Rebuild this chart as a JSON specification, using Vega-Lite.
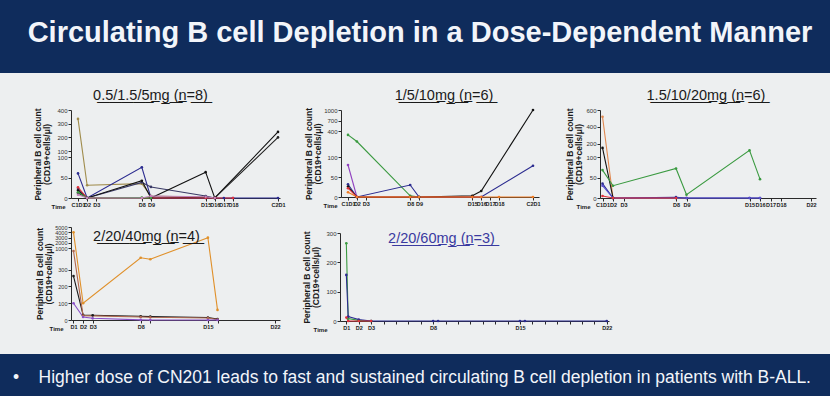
{
  "$schema": "https://vega.github.io/schema/vega-lite/v6.json",
  "background": "#edeff0",
  "padding": 0,
  "config": {
    "view": {"stroke": null},
    "font": "Liberation Sans",
    "axis": {"grid": false, "domainColor": "#2a2a2a", "tickColor": "#2a2a2a", "labelColor": "#333333", "titleColor": "#1a1a1a", "tickSize": 3, "labelPadding": 1, "labelFont": "Liberation Sans", "titleFont": "Liberation Sans", "labelOverlap": false, "labelSeparation": -60, "labelFlush": false},
    "title": {"font": "Liberation Sans", "fontSize": 14.5, "fontWeight": "normal", "color": "#1a1a1a", "frame": "group", "baseline": "bottom"}
  },
  "datasets": {
    "b": [
      {"panel": "A", "pt": "A1", "day": 1, "v": 335}, {"panel": "A", "pt": "A1", "day": 2, "v": 31}, {"panel": "A", "pt": "A1", "day": 8, "v": 35}, {"panel": "A", "pt": "A1", "day": 9, "v": 5}, {"panel": "A", "pt": "A1", "day": 15, "v": 2}, {"panel": "A", "pt": "A1", "day": 16, "v": 0},
      {"panel": "A", "pt": "A2", "day": 1, "v": 60}, {"panel": "A", "pt": "A2", "day": 2, "v": 0}, {"panel": "A", "pt": "A2", "day": 8, "v": 75}, {"panel": "A", "pt": "A2", "day": 9, "v": 0}, {"panel": "A", "pt": "A2", "day": 15, "v": 0}, {"panel": "A", "pt": "A2", "day": 16, "v": 0}, {"panel": "A", "pt": "A2", "day": 17, "v": 0}, {"panel": "A", "pt": "A2", "day": 18, "v": 0}, {"panel": "A", "pt": "A2", "day": 22, "v": 0},
      {"panel": "A", "pt": "A3", "day": 1, "v": 22}, {"panel": "A", "pt": "A3", "day": 2, "v": 0}, {"panel": "A", "pt": "A3", "day": 8, "v": 38}, {"panel": "A", "pt": "A3", "day": 9, "v": 27}, {"panel": "A", "pt": "A3", "day": 15, "v": 5}, {"panel": "A", "pt": "A3", "day": 16, "v": 0},
      {"panel": "A", "pt": "A4", "day": 1, "v": 18}, {"panel": "A", "pt": "A4", "day": 2, "v": 0}, {"panel": "A", "pt": "A4", "day": 8, "v": 42}, {"panel": "A", "pt": "A4", "day": 9, "v": 0}, {"panel": "A", "pt": "A4", "day": 15, "v": 63}, {"panel": "A", "pt": "A4", "day": 16, "v": 0}, {"panel": "A", "pt": "A4", "day": 22, "v": 240},
      {"panel": "A", "pt": "A5", "day": 1, "v": 12}, {"panel": "A", "pt": "A5", "day": 2, "v": 0}, {"panel": "A", "pt": "A5", "day": 9, "v": 0}, {"panel": "A", "pt": "A5", "day": 15, "v": 2}, {"panel": "A", "pt": "A5", "day": 16, "v": 0}, {"panel": "A", "pt": "A5", "day": 22, "v": 200},
      {"panel": "A", "pt": "A6", "day": 1, "v": 26}, {"panel": "A", "pt": "A6", "day": 2, "v": 0}, {"panel": "A", "pt": "A6", "day": 8, "v": 0}, {"panel": "A", "pt": "A6", "day": 9, "v": 0}, {"panel": "A", "pt": "A6", "day": 15, "v": 0}, {"panel": "A", "pt": "A6", "day": 16, "v": 0}, {"panel": "A", "pt": "A6", "day": 18, "v": 0},
      {"panel": "A", "pt": "A7", "day": 1, "v": 14}, {"panel": "A", "pt": "A7", "day": 2, "v": 0}, {"panel": "A", "pt": "A7", "day": 8, "v": 1}, {"panel": "A", "pt": "A7", "day": 9, "v": 0},
      {"panel": "A", "pt": "A8", "day": 1, "v": 8}, {"panel": "A", "pt": "A8", "day": 2, "v": 0}, {"panel": "A", "pt": "A8", "day": 8, "v": 0}, {"panel": "A", "pt": "A8", "day": 9, "v": 5}, {"panel": "A", "pt": "A8", "day": 15, "v": 3}, {"panel": "A", "pt": "A8", "day": 16, "v": 0},

      {"panel": "B", "pt": "B1", "day": 1, "v": 300}, {"panel": "B", "pt": "B1", "day": 2, "v": 115}, {"panel": "B", "pt": "B1", "day": 8, "v": 3}, {"panel": "B", "pt": "B1", "day": 9, "v": 0},
      {"panel": "B", "pt": "B2", "day": 1, "v": 80}, {"panel": "B", "pt": "B2", "day": 2, "v": 0},
      {"panel": "B", "pt": "B3", "day": 1, "v": 32}, {"panel": "B", "pt": "B3", "day": 2, "v": 0}, {"panel": "B", "pt": "B3", "day": 8, "v": 30}, {"panel": "B", "pt": "B3", "day": 9, "v": 0}, {"panel": "B", "pt": "B3", "day": 15, "v": 0}, {"panel": "B", "pt": "B3", "day": 16, "v": 0}, {"panel": "B", "pt": "B3", "day": 22, "v": 78},
      {"panel": "B", "pt": "B4", "day": 1, "v": 26}, {"panel": "B", "pt": "B4", "day": 2, "v": 0}, {"panel": "B", "pt": "B4", "day": 8, "v": 0}, {"panel": "B", "pt": "B4", "day": 9, "v": 0}, {"panel": "B", "pt": "B4", "day": 15, "v": 3}, {"panel": "B", "pt": "B4", "day": 16, "v": 15}, {"panel": "B", "pt": "B4", "day": 22, "v": 1000},
      {"panel": "B", "pt": "B5", "day": 1, "v": 22}, {"panel": "B", "pt": "B5", "day": 2, "v": 0}, {"panel": "B", "pt": "B5", "day": 8, "v": 0}, {"panel": "B", "pt": "B5", "day": 9, "v": 0}, {"panel": "B", "pt": "B5", "day": 15, "v": 0}, {"panel": "B", "pt": "B5", "day": 16, "v": 0},
      {"panel": "B", "pt": "B6", "day": 1, "v": 12}, {"panel": "B", "pt": "B6", "day": 2, "v": 0}, {"panel": "B", "pt": "B6", "day": 8, "v": 0}, {"panel": "B", "pt": "B6", "day": 9, "v": 0}, {"panel": "B", "pt": "B6", "day": 15, "v": 0}, {"panel": "B", "pt": "B6", "day": 16, "v": 0}, {"panel": "B", "pt": "B6", "day": 18, "v": 0}, {"panel": "B", "pt": "B6", "day": 22, "v": 0},

      {"panel": "C", "pt": "C1", "day": 1, "v": 520}, {"panel": "C", "pt": "C1", "day": 2, "v": 0}, {"panel": "C", "pt": "C1", "day": 8, "v": 0}, {"panel": "C", "pt": "C1", "day": 9, "v": 0},
      {"panel": "C", "pt": "C2", "day": 1, "v": 150}, {"panel": "C", "pt": "C2", "day": 2, "v": 0},
      {"panel": "C", "pt": "C3", "day": 1, "v": 68}, {"panel": "C", "pt": "C3", "day": 2, "v": 30}, {"panel": "C", "pt": "C3", "day": 8, "v": 72}, {"panel": "C", "pt": "C3", "day": 9, "v": 8}, {"panel": "C", "pt": "C3", "day": 15, "v": 120}, {"panel": "C", "pt": "C3", "day": 16, "v": 46},
      {"panel": "C", "pt": "C4", "day": 1, "v": 35}, {"panel": "C", "pt": "C4", "day": 2, "v": 0}, {"panel": "C", "pt": "C4", "day": 8, "v": 2}, {"panel": "C", "pt": "C4", "day": 9, "v": 0}, {"panel": "C", "pt": "C4", "day": 15, "v": 0}, {"panel": "C", "pt": "C4", "day": 16, "v": 0},
      {"panel": "C", "pt": "C5", "day": 1, "v": 30}, {"panel": "C", "pt": "C5", "day": 2, "v": 0}, {"panel": "C", "pt": "C5", "day": 8, "v": 0}, {"panel": "C", "pt": "C5", "day": 9, "v": 0}, {"panel": "C", "pt": "C5", "day": 15, "v": 0}, {"panel": "C", "pt": "C5", "day": 16, "v": 0},
      {"panel": "C", "pt": "C6", "day": 1, "v": 5}, {"panel": "C", "pt": "C6", "day": 2, "v": 0}, {"panel": "C", "pt": "C6", "day": 8, "v": 0},

      {"panel": "D", "pt": "D1", "day": 1, "v": 4000}, {"panel": "D", "pt": "D1", "day": 2, "v": 100}, {"panel": "D", "pt": "D1", "day": 8, "v": 480}, {"panel": "D", "pt": "D1", "day": 9, "v": 400}, {"panel": "D", "pt": "D1", "day": 15, "v": 3000}, {"panel": "D", "pt": "D1", "day": 16, "v": 60},
      {"panel": "D", "pt": "D2", "day": 1, "v": 262}, {"panel": "D", "pt": "D2", "day": 2, "v": 30}, {"panel": "D", "pt": "D2", "day": 3, "v": 28}, {"panel": "D", "pt": "D2", "day": 8, "v": 22}, {"panel": "D", "pt": "D2", "day": 9, "v": 20}, {"panel": "D", "pt": "D2", "day": 15, "v": 15}, {"panel": "D", "pt": "D2", "day": 16, "v": 5},
      {"panel": "D", "pt": "D3", "day": 1, "v": 850}, {"panel": "D", "pt": "D3", "day": 2, "v": 26}, {"panel": "D", "pt": "D3", "day": 8, "v": 18}, {"panel": "D", "pt": "D3", "day": 9, "v": 16}, {"panel": "D", "pt": "D3", "day": 15, "v": 12}, {"panel": "D", "pt": "D3", "day": 16, "v": 3},
      {"panel": "D", "pt": "D4", "day": 1, "v": 100}, {"panel": "D", "pt": "D4", "day": 2, "v": 18}, {"panel": "D", "pt": "D4", "day": 3, "v": 10}, {"panel": "D", "pt": "D4", "day": 8, "v": 1}, {"panel": "D", "pt": "D4", "day": 9, "v": 0}, {"panel": "D", "pt": "D4", "day": 15, "v": 0}, {"panel": "D", "pt": "D4", "day": 16, "v": 0},

      {"panel": "E", "pt": "E1", "day": 1, "v": 265}, {"panel": "E", "pt": "E1", "day": 1.15, "v": 8}, {"panel": "E", "pt": "E1", "day": 2, "v": 2}, {"panel": "E", "pt": "E1", "day": 3, "v": 0},
      {"panel": "E", "pt": "E2", "day": 1, "v": 157}, {"panel": "E", "pt": "E2", "day": 1.15, "v": 15}, {"panel": "E", "pt": "E2", "day": 2, "v": 5}, {"panel": "E", "pt": "E2", "day": 3, "v": 0}, {"panel": "E", "pt": "E2", "day": 8, "v": 0}, {"panel": "E", "pt": "E2", "day": 8.4, "v": 0}, {"panel": "E", "pt": "E2", "day": 15, "v": 0}, {"panel": "E", "pt": "E2", "day": 15.4, "v": 0}, {"panel": "E", "pt": "E2", "day": 22, "v": 0},
      {"panel": "E", "pt": "E3", "day": 1, "v": 12}, {"panel": "E", "pt": "E3", "day": 1.15, "v": 0}, {"panel": "E", "pt": "E3", "day": 2, "v": 0}, {"panel": "E", "pt": "E3", "day": 3, "v": 0}
    ]
  },
  "spacing": 22,
  "resolve": {"scale": {"color": "independent"}},
  "vconcat": [
    {
      "spacing": 14,
      "resolve": {"scale": {"color": "independent"}},
      "vconcat": [
        {
          "width": 830, "height": 73,
          "view": {"fill": "#0f2c5c", "stroke": null},
          "data": {"values": [{"t": "Circulating B cell Depletion in a Dose-Dependent Manner"}]},
          "mark": {"type": "text", "color": "#f2f5fa", "font": "Liberation Sans", "fontSize": 29, "fontWeight": "bold", "dx": 5, "dy": -4},
          "encoding": {"text": {"field": "t"}}
        },
        {
          "spacing": 32,
          "resolve": {"scale": {"color": "independent"}},
          "hconcat": [
            {"width": 1, "height": 1, "data": {"values": [{}]}, "mark": {"type": "text", "text": ""}},
            {
              "spacing": 16,
              "resolve": {"scale": {"color": "independent"}},
              "vconcat": [
                {
                  "spacing": 24,
                  "resolve": {"scale": {"color": "independent"}},
                  "hconcat": [
                    {
                      "spacing": 18,
                      "resolve": {"scale": {"color": "independent"}},
                      "hconcat": [
                        {
                          "width": 209, "height": 88,
                          "title": {"text": "0\u0332.\u03325\u0332/\u03321\u0332.\u03325\u0332/\u03325\u0332m\u0332g\u0332 \u0332(\u0332n\u0332=\u03328\u0332)\u0332", "dx": -25, "offset": 4},
                          "data": {"name": "b"},
                          "transform": [{"filter": "datum.panel == 'A'"}],
                          "mark": {"type": "line", "strokeWidth": 1.1, "point": {"filled": true, "size": 7}},
                          "encoding": {
                            "x": {"field": "day", "type": "quantitative", "scale": {"domain": [0.23, 18, 22, 22.3], "range": [0, 162, 207, 209], "nice": false, "zero": false},
                              "axis": {"values": [1, 2, 3, 8, 9, 15, 16, 17, 18, 22], "labelOverlap": false, "labelSeparation": -60, "labelExpr": "datum.value == 1 ? 'C1D1' : datum.value == 22 ? 'C2D1' : 'D' + datum.value", "title": "Time", "titleFontSize": 6, "titleFontWeight": "bold", "titleAnchor": "start", "titleAlign": "right", "titleBaseline": "top", "titleX": -6, "titleY": 5, "labelFontSize": 5.5, "labelFontWeight": "bold", "labelColor": "#222222"}},
                            "y": {"field": "v", "type": "quantitative", "scale": {"domain": [0, 100, 101, 400], "range": [88, 47, 41, 0], "nice": false, "zero": false},
                              "axis": {"values": [0, 50, 100, 101, 200, 300, 400], "labelOverlap": false, "labelSeparation": -60, "format": "d", "labelExpr": "datum.value == 101 ? '100' : datum.label", "title": ["Peripheral B cell count", "(CD19+cells/\u03bcl)"], "titleFontSize": 8.5, "titleFontWeight": "bold", "titleLineHeight": 9.5, "titlePadding": 5, "labelFontSize": 6}},
                            "color": {"field": "pt", "type": "nominal", "legend": null, "scale": {"domain": ["A1", "A2", "A3", "A4", "A5", "A6", "A7", "A8"], "range": ["#a08c4c", "#2b2b8f", "#3a3a66", "#111111", "#222222", "#e0303a", "#3a9a40", "#c080b8"]}}
                          }
                        },
                        {
                          "width": 198, "height": 87,
                          "title": {"text": "1\u0332/\u03325\u0332/\u03321\u03320\u0332m\u0332g\u0332 \u0332(\u0332n\u0332=\u03326\u0332)\u0332", "dx": 4, "offset": 4},
                          "data": {"name": "b"},
                          "transform": [{"filter": "datum.panel == 'B'"}],
                          "mark": {"type": "line", "strokeWidth": 1.1, "point": {"filled": true, "size": 7}},
                          "encoding": {
                            "x": {"field": "day", "type": "quantitative", "scale": {"domain": [0.21, 18, 22, 22.4], "range": [0, 158, 192, 198], "nice": false, "zero": false},
                              "axis": {"values": [1, 2, 3, 8, 9, 15, 16, 17, 18, 22], "labelOverlap": false, "labelSeparation": -60, "labelExpr": "datum.value == 1 ? 'C1D1' : datum.value == 22 ? 'C2D1' : 'D' + datum.value", "title": "Time", "titleFontSize": 6, "titleFontWeight": "bold", "titleAnchor": "start", "titleAlign": "right", "titleBaseline": "top", "titleX": -4, "titleY": 5, "labelFontSize": 5.5, "labelFontWeight": "bold", "labelColor": "#222222"}},
                            "y": {"field": "v", "type": "quantitative", "scale": {"domain": [0, 100, 101, 1000], "range": [87, 47, 32, 0], "nice": false, "zero": false},
                              "axis": {"values": [0, 50, 100, 400, 700, 1000], "labelOverlap": false, "labelSeparation": -60, "format": "d", "title": ["Peripheral B cell count", "(CD19+cells/\u03bcl)"], "titleFontSize": 8.5, "titleFontWeight": "bold", "titleLineHeight": 9.5, "titlePadding": 1, "labelFontSize": 6}},
                            "color": {"field": "pt", "type": "nominal", "legend": null, "scale": {"domain": ["B1", "B2", "B3", "B4", "B5", "B6"], "range": ["#3a9a40", "#9040c0", "#2b2b8f", "#111111", "#e0303a", "#f07a20"]}}
                          }
                        }
                      ]
                    },
                    {
                      "width": 216, "height": 88,
                      "title": {"text": "1\u0332.\u03325\u0332/\u03321\u03320\u0332/\u03322\u03320\u0332m\u0332g\u0332 \u0332(\u0332n\u0332=\u03326\u0332)\u0332", "dx": -2, "offset": 4},
                      "data": {"name": "b"},
                      "transform": [{"filter": "datum.panel == 'C'"}],
                      "mark": {"type": "line", "strokeWidth": 1.1, "point": {"filled": true, "size": 7}},
                      "encoding": {
                        "x": {"field": "day", "type": "quantitative", "scale": {"domain": [0.76, 18, 22, 22.5], "range": [0, 181, 211, 216], "nice": false, "zero": false},
                          "axis": {"values": [1, 2, 3, 8, 9, 15, 16, 17, 18, 22], "labelOverlap": false, "labelSeparation": -60, "labelExpr": "datum.value == 1 ? 'C1D1' : 'D' + datum.value", "title": "Time", "titleFontSize": 6, "titleFontWeight": "bold", "titleAnchor": "start", "titleAlign": "right", "titleBaseline": "top", "titleX": -10, "titleY": 5, "labelFontSize": 5.5, "labelFontWeight": "bold", "labelColor": "#222222"}},
                        "y": {"field": "v", "type": "quantitative", "scale": {"domain": [0, 100, 101, 600], "range": [88, 47, 42, 0], "nice": false, "zero": false},
                          "axis": {"values": [0, 50, 100, 200, 400, 600], "labelOverlap": false, "labelSeparation": -60, "format": "d", "title": ["Peripheral B cell count", "(CD19+cells/\u03bcl)"], "titleFontSize": 8.5, "titleFontWeight": "bold", "titleLineHeight": 9.5, "titlePadding": 2, "labelFontSize": 6}},
                        "color": {"field": "pt", "type": "nominal", "legend": null, "scale": {"domain": ["C1", "C2", "C3", "C4", "C5", "C6"], "range": ["#e08850", "#111111", "#3a9a40", "#2b2b8f", "#5a50d0", "#e0303a"]}}
                      }
                    }
                  ]
                },
                {
                  "spacing": 21,
                  "resolve": {"scale": {"color": "independent"}},
                  "hconcat": [
                    {
                      "width": 209, "height": 93,
                      "title": {"text": "2\u0332/\u03322\u03320\u0332/\u03324\u03320\u0332m\u0332g\u0332 \u0332(\u0332n\u0332=\u03324\u0332)\u0332", "dx": -29, "offset": -19},
                      "data": {"name": "b"},
                      "transform": [{"filter": "datum.panel == 'D'"}],
                      "mark": {"type": "line", "strokeWidth": 1.1, "point": {"filled": true, "size": 7}},
                      "encoding": {
                        "x": {"field": "day", "type": "quantitative", "scale": {"domain": [0.74, 22.51], "nice": false, "zero": false},
                          "axis": {"values": [1, 2, 3, 8, 9, 15, 16, 22], "labelOverlap": false, "labelSeparation": -60, "labelExpr": "indexof([1,2,3,8,15,22], datum.value) >= 0 ? 'D' + datum.value : ''", "title": "Time", "titleFontSize": 6, "titleFontWeight": "bold", "titleAnchor": "start", "titleAlign": "right", "titleBaseline": "top", "titleX": -8, "titleY": 5, "labelFontSize": 5.5, "labelFontWeight": "bold", "labelColor": "#222222"}},
                        "y": {"field": "v", "type": "quantitative", "scale": {"domain": [0, 300, 301, 1000, 5000], "range": [93, 42.7, 34, 21.3, 0], "nice": false, "zero": false},
                          "axis": {"values": [0, 100, 200, 300, 1000, 2000, 3000, 4000, 5000], "labelOverlap": false, "labelSeparation": -60, "format": "d", "title": ["Peripheral B cell count", "(CD19+cells/\u03bcl)"], "titleFontSize": 8.5, "titleFontWeight": "bold", "titleLineHeight": 9.5, "titlePadding": 1, "labelFontSize": 5.5}},
                        "color": {"field": "pt", "type": "nominal", "legend": null, "scale": {"domain": ["D1", "D2", "D3", "D4"], "range": ["#e0902a", "#1a1a1a", "#b06850", "#8a50c8"]}}
                      }
                    },
                    {
                      "width": 269, "height": 94,
                      "title": {"text": "2\u0332/\u03322\u03320\u0332/\u03326\u03320\u0332m\u0332g\u0332 \u0332(\u0332n\u0332=\u03323\u0332)\u0332", "dx": -33, "offset": -19, "color": "#3a3aa0"},
                      "data": {"name": "b"},
                      "transform": [{"filter": "datum.panel == 'E'"}],
                      "mark": {"type": "line", "strokeWidth": 1.1, "point": {"filled": true, "size": 7}},
                      "encoding": {
                        "x": {"field": "day", "type": "quantitative", "scale": {"domain": [0.49, 22.18], "nice": false, "zero": false},
                          "axis": {"values": [1, 2, 3, 4, 5, 6, 7, 8, 9, 10, 11, 12, 13, 14, 15, 16, 17, 18, 19, 20, 21, 22], "labelOverlap": false, "labelSeparation": -60, "labelExpr": "indexof([1,2,3,8,15,22], datum.value) >= 0 ? 'D' + datum.value : ''", "title": "Time", "titleFontSize": 6, "titleFontWeight": "bold", "titleAnchor": "start", "titleAlign": "right", "titleBaseline": "top", "titleX": -13, "titleY": 5, "labelFontSize": 5.5, "labelFontWeight": "bold", "labelColor": "#222222"}},
                        "y": {"field": "v", "type": "quantitative", "scale": {"domain": [0, 300], "range": [94, 6], "nice": false, "zero": false},
                          "axis": {"values": [0, 100, 200, 300], "labelOverlap": false, "labelSeparation": -60, "format": "d", "title": ["Peripheral B cell count", "(CD19+cells/\u03bcl)"], "titleFontSize": 8.5, "titleFontWeight": "bold", "titleLineHeight": 9.5, "titlePadding": 5, "labelFontSize": 6}},
                        "color": {"field": "pt", "type": "nominal", "legend": null, "scale": {"domain": ["E1", "E2", "E3"], "range": ["#3a9a40", "#2b2b8f", "#e0303a"]}}
                      }
                    }
                  ]
                }
              ]
            }
          ]
        }
      ]
    },
    {
      "width": 830, "height": 42,
      "view": {"fill": "#0f2c5c", "stroke": null},
      "data": {"values": [{"t": "\u2022\u00a0\u00a0\u00a0\u00a0Higher dose of CN201 leads to fast and sustained circulating B cell depletion in patients with B-ALL."}]},
      "mark": {"type": "text", "color": "#f2f5fa", "font": "Liberation Sans", "fontSize": 17.5, "dx": -3, "dy": 3},
      "encoding": {"text": {"field": "t"}}
    }
  ]
}
